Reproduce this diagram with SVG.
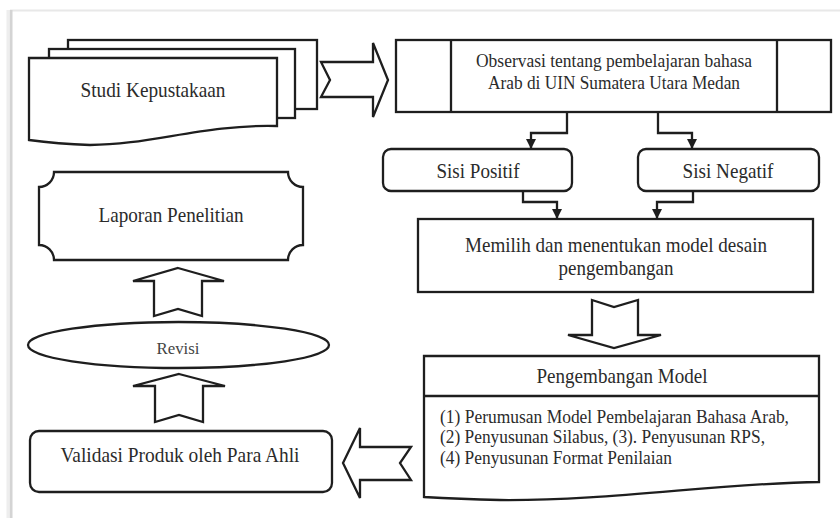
<svg xmlns="http://www.w3.org/2000/svg" width="840" height="518" viewBox="0 0 840 518">
  <defs>
    <marker id="ah" viewBox="0 0 10 10" markerWidth="10" markerHeight="10" refX="10" refY="5" orient="auto" markerUnits="userSpaceOnUse">
      <path d="M0,0 L10,5 L0,10 Z" fill="#1e1e1e"/>
    </marker>
  </defs>
  <style>
    .shape { fill: #ffffff; stroke: #1e1e1e; stroke-width: 2.3; stroke-linejoin: miter; }
    .conn { fill: none; stroke: #1e1e1e; stroke-width: 2.3; }
    .t { font-family: "Liberation Serif", "Times New Roman", "DejaVu Serif", serif; font-size: 21.5px; fill: #2b2b2b; text-anchor: middle; }
    .o { font-family: "Liberation Serif", "Times New Roman", "DejaVu Serif", serif; font-size: 19.5px; fill: #2b2b2b; text-anchor: middle; }
    .l { font-family: "Liberation Serif", "Times New Roman", "DejaVu Serif", serif; font-size: 18.5px; fill: #2b2b2b; text-anchor: start; }
    .r { font-family: "Liberation Serif", "Times New Roman", "DejaVu Serif", serif; font-size: 16.5px; fill: #444444; text-anchor: middle; }
  </style>
  <rect x="0" y="0" width="840" height="518" fill="#ffffff"/>
  <!-- page frame -->
  <line x1="10" y1="10.5" x2="840" y2="10.5" stroke="#e8e8e8" stroke-width="2"/>
  <line x1="11" y1="10" x2="11" y2="518" stroke="#d4d4d4" stroke-width="3"/>
  <line x1="8" y1="10" x2="8" y2="518" stroke="#eeeeee" stroke-width="3"/>

  <g id="studi-kepustakaan">
    <rect class="shape" x="68" y="40" width="249" height="69"/>
    <rect class="shape" x="49" y="49" width="246" height="69"/>
    <path class="shape" d="M29,58 H277 V126 C205,124 150,145 90,145 Q58,144 29,140 Z"/>
    <text class="t" x="153" y="97" textLength="145" lengthAdjust="spacingAndGlyphs">Studi Kepustakaan</text>
  </g>

  <g id="observasi">
    <rect class="shape" x="396" y="40" width="435" height="72"/>
    <line class="conn" x1="451" y1="40" x2="451" y2="112"/>
    <line class="conn" x1="777" y1="40" x2="777" y2="112"/>
    <text class="o" x="614" y="67" textLength="276" lengthAdjust="spacingAndGlyphs">Observasi tentang pembelajaran bahasa</text>
    <text class="o" x="614" y="89" textLength="252" lengthAdjust="spacingAndGlyphs">Arab di UIN Sumatera Utara Medan</text>
  </g>

  <g id="sisi-positif">
    <rect class="shape" x="383" y="149" width="189" height="42" rx="8"/>
    <text class="t" x="478" y="178" textLength="83" lengthAdjust="spacingAndGlyphs">Sisi Positif</text>
  </g>

  <g id="sisi-negatif">
    <rect class="shape" x="638" y="149" width="181" height="42" rx="8"/>
    <text class="t" x="728" y="178" textLength="91" lengthAdjust="spacingAndGlyphs">Sisi Negatif</text>
  </g>

  <g id="memilih">
    <rect class="shape" x="418" y="219" width="395" height="73"/>
    <text class="t" x="616" y="252" textLength="302" lengthAdjust="spacingAndGlyphs">Memilih dan menentukan model desain</text>
    <text class="t" x="616" y="275" textLength="115" lengthAdjust="spacingAndGlyphs">pengembangan</text>
  </g>

  <g id="pengembangan-model">
    <path class="shape" d="M424,356 H819 V482 C720,483 610,501 500,500 Q460,499 424,497 Z"/>
    <line class="conn" x1="424" y1="396" x2="819" y2="396"/>
    <text class="t" x="622" y="383" textLength="171" lengthAdjust="spacingAndGlyphs">Pengembangan Model</text>
    <text class="l" x="440" y="423" textLength="349" lengthAdjust="spacingAndGlyphs">(1) Perumusan Model Pembelajaran Bahasa Arab,</text>
    <text class="l" x="440" y="443" textLength="325" lengthAdjust="spacingAndGlyphs">(2) Penyusunan Silabus, (3). Penyusunan RPS,</text>
    <text class="l" x="440" y="464" textLength="232" lengthAdjust="spacingAndGlyphs">(4) Penyusunan Format Penilaian</text>
  </g>

  <g id="validasi">
    <rect class="shape" x="30" y="431" width="302" height="61" rx="9"/>
    <text class="t" x="180" y="462" textLength="239" lengthAdjust="spacingAndGlyphs">Validasi Produk oleh Para Ahli</text>
  </g>

  <g id="revisi">
    <ellipse class="shape" cx="178.5" cy="345" rx="150.5" ry="23"/>
    <text class="r" x="178" y="354" textLength="43" lengthAdjust="spacingAndGlyphs">Revisi</text>
  </g>

  <g id="laporan-penelitian">
    <path class="shape" d="M54,172 H288 A15,15 0 0 0 303,187 V245 A15,15 0 0 0 288,260 H54 A15,15 0 0 0 39,245 V187 A15,15 0 0 0 54,172 Z"/>
    <text class="t" x="171" y="222" textLength="145" lengthAdjust="spacingAndGlyphs">Laporan Penelitian</text>
  </g>

  <g id="connectors">
    <!-- block arrows -->
    <path class="shape" d="M321,62 H373 V43 L388,80 L373,117 V97 H321 L330,80 Z"/>
    <path class="shape" d="M592,300 L614,307 L638,300 V335 H661 L614,348 L568,335 H592 Z"/>
    <path class="shape" d="M343,463 L360,428 V447 H411 L400,463 L411,480 H360 V498 Z"/>
    <path class="shape" d="M179,374 L225,386 H203 V422 L179,415 L155,422 V386 H133 Z"/>
    <path class="shape" d="M178,268 L224,281 H202 V316 L178,309 L154,316 V281 H133 Z"/>
    <!-- elbow connectors -->
    <path class="conn" d="M567,112 V133 H531 V149" marker-end="url(#ah)"/>
    <path class="conn" d="M658,112 V133 H692 V149" marker-end="url(#ah)"/>
    <path class="conn" d="M523,190 V202 H557 V219" marker-end="url(#ah)"/>
    <path class="conn" d="M693,190 V202 H657 V219" marker-end="url(#ah)"/>
  </g>
</svg>
